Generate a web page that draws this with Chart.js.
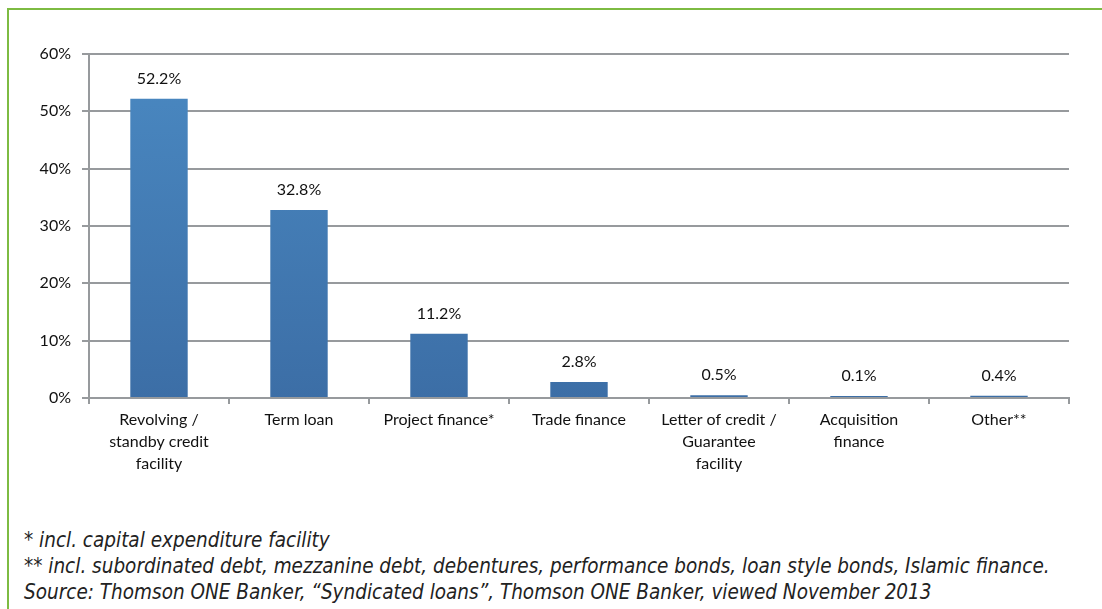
<!DOCTYPE html>
<html>
<head>
<meta charset="utf-8">
<script src="https://cdn.jsdelivr.net/npm/chart.js@4.4.1/dist/chart.umd.min.js"></script>
<style>
  html, body { margin: 0; padding: 0; background: #fff; }
  body { width: 1102px; height: 609px; position: relative; overflow: hidden; }
  .frame { position: absolute; left: 7px; top: 8px; right: -5px; bottom: -5px;
           border-top: 2px solid #7dbb42; border-left: 2px solid #7dbb42; }
  .chartbox { position: absolute; left: 0; top: 0; width: 1102px; height: 490px; }
  .notes { position: absolute; left: 24px; top: 527px; color: #222;
           font-family: "Liberation Sans Narrow", "DejaVu Sans Condensed", sans-serif;
           font-style: italic; font-size: 20.5px; line-height: 26px; }
</style>
</head>
<body>
<div class="frame"></div>
<div class="chartbox"><canvas id="chart1"></canvas></div>
<div class="notes">
  <div>* incl. capital expenditure facility</div>
  <div>** incl. subordinated debt, mezzanine debt, debentures, performance bonds, loan style bonds, Islamic finance.</div>
  <div>Source: Thomson ONE Banker, “Syndicated loans”, Thomson ONE Banker, viewed November 2013</div>
</div>
<script>
const categories = [
    ['Revolving /', 'standby credit', 'facility'],
    'Term loan',
    'Project finance*',
    'Trade finance',
    ['Letter of credit /', 'Guarantee', 'facility'],
    ['Acquisition', 'finance'],
    'Other**'
];
const shares = [52.2, 32.8, 11.2, 2.8, 0.5, 0.1, 0.4];
const yTicks = [0, 10, 20, 30, 40, 50, 60];

const gridColor = '#979a9d';
const textFont = { family: 'Lato, "Open Sans", sans-serif', size: 16, lineHeight: '22px' };

const barLabels = {
    id: 'barLabels',
    afterDatasetsDraw(chart) {
        const ctx = chart.ctx;
        const meta = chart.getDatasetMeta(0);
        ctx.save();
        ctx.font = '16px Lato, "Open Sans", sans-serif';
        ctx.fillStyle = '#111';
        ctx.textAlign = 'center';
        ctx.textBaseline = 'middle';
        meta.data.forEach((bar, i) => {
            ctx.fillText(shares[i].toFixed(1) + '%', bar.x, bar.y - 20);
        });
        ctx.restore();
    }
};

document.addEventListener('DOMContentLoaded', () => {
    const ctx1 = document.getElementById('chart1').getContext('2d');
    new Chart(ctx1, {
        type: 'bar',
        data: {
            labels: categories,
            datasets: [{
                data: shares,
                backgroundColor: (c) => {
                    const area = c.chart.chartArea;
                    if (!area) return '#4680b8';
                    const g = c.chart.ctx.createLinearGradient(0, area.top, 0, area.bottom);
                    g.addColorStop(0, '#4a89c2');
                    g.addColorStop(1, '#3c6ea6');
                    return g;
                },
                borderWidth: 0,
                minBarLength: 2,
                categoryPercentage: 1,
                barPercentage: 0.41
            }]
        },
        plugins: [barLabels],
        options: {
            responsive: true,
            maintainAspectRatio: false,
            animation: false,
            layout: { padding: { top: 54, right: 33, left: 0, bottom: 0 } },
            plugins: {
                legend: { display: false },
                tooltip: { enabled: false }
            },
            scales: {
                x: {
                    grid: { offset: true, drawOnChartArea: false, drawTicks: true, tickLength: 6, color: gridColor, lineWidth: 2 },
                    border: { color: gridColor, width: 2 },
                    ticks: { color: '#111', font: textFont, padding: 5, maxRotation: 0, autoSkip: false },
                    afterFit: (s) => { s.height = 92; }
                },
                y: {
                    min: 0,
                    max: 60,
                    afterBuildTicks: (s) => { s.ticks = yTicks.map(v => ({ value: v })); },
                    grid: { color: gridColor, lineWidth: 2, tickLength: 7 },
                    border: { color: gridColor, width: 2 },
                    ticks: { color: '#111', font: { family: textFont.family, size: 16 }, padding: 11, callback: (v) => v + '%' },
                    afterFit: (s) => { s.width = 89; }
                }
            }
        }
    });
});
</script>
</body>
</html>
